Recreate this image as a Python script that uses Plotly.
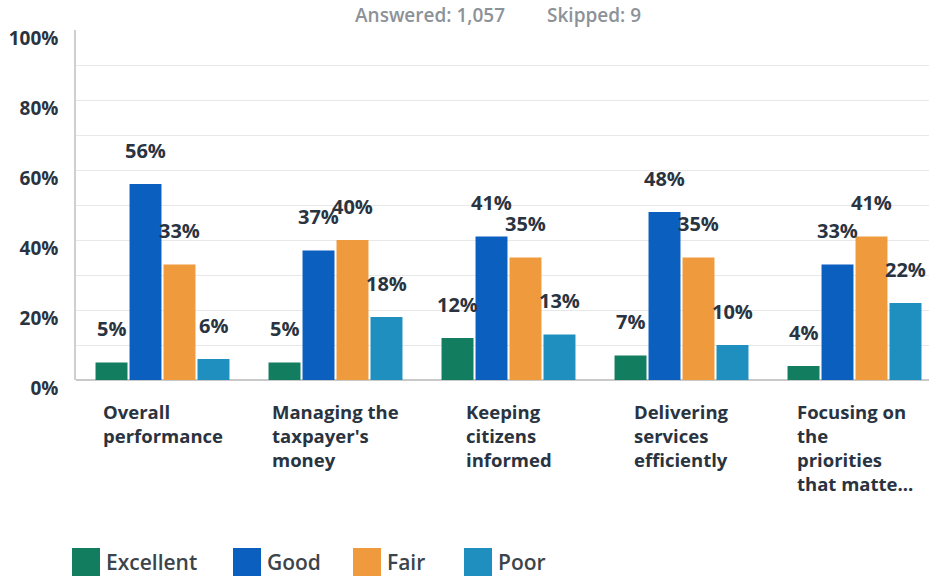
import plotly.graph_objects as go

# ---- data ----
categories = [
    "Overall<br>performance",
    "Managing the<br>taxpayer's<br>money",
    "Keeping<br>citizens<br>informed",
    "Delivering<br>services<br>efficiently",
    "Focusing on<br>the<br>priorities<br>that matte...",
]
series_names = ["Excellent", "Good", "Fair", "Poor"]
excellent = [5, 5, 12, 7, 4]
good = [56, 37, 41, 48, 33]
fair = [33, 40, 35, 35, 41]
poor = [6, 18, 13, 10, 22]
y_tick_values = [0, 20, 40, 60, 80, 100]
y_tick_labels = ["0%", "20%", "40%", "60%", "80%", "100%"]
answered = "1,057"
skipped = "9"

# ---- styling ----
series_values = [excellent, good, fair, poor]
colors = ["#127d5f", "#0b5fbf", "#ef9a3c", "#1e8fbe"]
FONT = "Open Sans"
DARK = "#2a3441"

W, H = 929, 577
L, R, T, B = 76, 0, 30, 197
PW, PH = W - L - R, H - T - B
CAT_W = 173  # pixel width of one category band
BARGAP = 0.214
BARGROUPGAP = 0.06


def px_x(px):
    return (px - L) / PW


def px_y(py):
    return (H - B - py) / PH


n_cat = len(categories)
xs = list(range(n_cat))
slot = (1 - BARGAP) / len(series_names)

fig = go.Figure()
for k, (name, vals) in enumerate(zip(series_names, series_values)):
    fig.add_trace(go.Bar(
        x=xs, y=vals, name=name, marker=dict(color=colors[k], line=dict(width=0)),
        showlegend=False,
    ))

annotations = []
# value labels above each bar
for k, vals in enumerate(series_values):
    off = (k - (len(series_names) - 1) / 2) * slot
    for i, v in enumerate(vals):
        annotations.append(dict(
            x=i + off, y=v, xref="x", yref="y", text=f"{v}%", showarrow=False,
            yanchor="middle", yshift=34,
            font=dict(family=FONT, size=20, color=DARK, weight="bold"),
        ))

# category labels (left-aligned block centred under each group)
for i, c in enumerate(categories):
    annotations.append(dict(
        x=i, y=px_y(397), xref="x", yref="paper", text=c, showarrow=False,
        xanchor="center", yanchor="top", align="left",
        font=dict(family=FONT, size=18.5, color=DARK, weight="bold"),
    ))

# response counts header
annotations.append(dict(
    x=px_x(430), y=px_y(15), xref="paper", yref="paper",
    text=f"Answered: {answered}", showarrow=False, xanchor="center", yanchor="middle",
    font=dict(family=FONT, size=19, color="#8c9297", weight=600),
))
annotations.append(dict(
    x=px_x(594), y=px_y(15), xref="paper", yref="paper",
    text=f"Skipped: {skipped}", showarrow=False, xanchor="center", yanchor="middle",
    font=dict(family=FONT, size=19, color="#8c9297", weight=600),
))

# legend: large square swatches with labels
shapes = []
legend_x = [72, 233, 353, 464]
for k, name in enumerate(series_names):
    x0 = legend_x[k]
    shapes.append(dict(
        type="rect", xref="paper", yref="paper",
        x0=px_x(x0), x1=px_x(x0 + 28), y0=px_y(548), y1=px_y(576),
        fillcolor=colors[k], line=dict(width=0),
    ))
    annotations.append(dict(
        x=px_x(x0 + 32), y=px_y(562), xref="paper", yref="paper", text=name,
        showarrow=False, xanchor="left", yanchor="middle",
        font=dict(family=FONT, size=21, color="#3c444a", weight=600),
    ))

fig.update_layout(
    width=W, height=H,
    margin=dict(l=L, r=R, t=T, b=B, pad=0),
    plot_bgcolor="white", paper_bgcolor="white",
    barmode="group", bargap=BARGAP, bargroupgap=BARGROUPGAP,
    annotations=annotations, shapes=shapes,
    showlegend=False,
    xaxis=dict(
        range=[-0.5, -0.5 + PW / CAT_W], showticklabels=False, showgrid=False,
        zeroline=False, showline=False, ticks="",
    ),
    yaxis=dict(
        range=[0, 100], tickvals=y_tick_values, ticktext=y_tick_labels,
        showgrid=True, gridcolor="#e8e8e8", gridwidth=1,
        minor=dict(dtick=10, showgrid=True, gridcolor="#e8e8e8"),
        zeroline=True, zerolinecolor="#c9c9c9", zerolinewidth=1.5,
        showline=True, linecolor="#cfcfcf", linewidth=1.5,
        ticks="", ticklabelstandoff=12, ticklabelshift=8,
        tickfont=dict(family=FONT, size=19, color=DARK, weight="bold"),
    ),
)

fig.write_html("out.html")
